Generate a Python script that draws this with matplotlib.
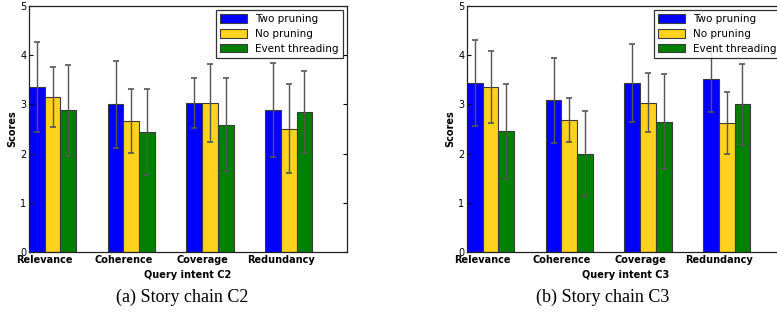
import numpy as np
import matplotlib
matplotlib.use('Agg')
import matplotlib.pyplot as plt

# data (mean score, +/- std)
criteria = ['Relevance', 'Coherence', 'Coverage', 'Redundancy']
methods = ['Two pruning', 'No pruning', 'Event threading']
colors = ['#0000ff', '#ffd21e', '#008000']

c2_two = [3.35, 3.00, 3.03, 2.89]
c2_two_err = [0.91, 0.88, 0.51, 0.95]
c2_no = [3.15, 2.67, 3.03, 2.51]
c2_no_err = [0.61, 0.65, 0.79, 0.91]
c2_event = [2.88, 2.44, 2.59, 2.84]
c2_event_err = [0.92, 0.88, 0.94, 0.83]

c3_two = [3.43, 3.08, 3.43, 3.51]
c3_two_err = [0.87, 0.87, 0.79, 0.67]
c3_no = [3.35, 2.68, 3.03, 2.63]
c3_no_err = [0.73, 0.44, 0.60, 0.63]
c3_event = [2.45, 2.00, 2.65, 3.00]
c3_event_err = [0.97, 0.86, 0.96, 0.83]

panels = [
    ('Query intent C2', '(a) Story chain C2',
     [c2_two, c2_no, c2_event], [c2_two_err, c2_no_err, c2_event_err]),
    ('Query intent C3', '(b) Story chain C3',
     [c3_two, c3_no, c3_event], [c3_two_err, c3_no_err, c3_event_err]),
]

fig = plt.figure(figsize=(7.77, 3.23), dpi=100)
ax_pos = [[29 / 777, 71 / 323, 318 / 777, 246 / 323],
          [467 / 777, 71 / 323, 318 / 777, 246 / 323]]
caption_x = [182 / 777, 603 / 777]

ind = np.arange(len(criteria))
width = 0.2

for k, (xlab, caption, vals, errs) in enumerate(panels):
    ax = fig.add_axes(ax_pos[k])
    for i in range(3):
        bars = ax.bar(ind + i * width, vals[i], width, yerr=errs[i], align='edge',
                      color=colors[i], edgecolor='#3a3a3a', linewidth=0.8,
                      label=methods[i],
                      error_kw=dict(ecolor='#555555', elinewidth=1.0,
                                    capsize=2.2, capthick=1.2))
        # black caps, grey stems
        for cap in bars.errorbar.lines[1]:
            cap.set_color('black')
    ax.set_xlim(0, 4.04)
    ax.set_ylim(0, 5)
    ax.set_yticks([0, 1, 2, 3, 4, 5])
    ax.set_xticks(ind + width)
    ax.set_xticklabels(criteria, fontsize=7, fontweight='bold')
    ax.tick_params(axis='y', labelsize=7, direction='in', right=True, length=3, pad=2)
    ax.tick_params(axis='x', direction='in', top=True, length=0, pad=2.5)
    ax.set_ylabel('Scores', fontsize=7, fontweight='bold', labelpad=2)
    ax.set_xlabel(xlab, fontsize=7, fontweight='bold', labelpad=3)
    for sp in ax.spines.values():
        sp.set_linewidth(0.9)
        sp.set_color('#222222')
    leg = ax.legend(loc='upper right', fontsize=7.5, fancybox=False,
                    borderpad=0.4, handlelength=2.6, handleheight=0.9,
                    labelspacing=0.45, borderaxespad=0.4)
    leg.get_frame().set_edgecolor('black')
    leg.get_frame().set_linewidth(0.9)

    fig.text(caption_x[k], 26 / 323, caption, ha='center', va='center',
             fontsize=13, family='Liberation Serif')

fig.savefig('out.png', dpi=100)
